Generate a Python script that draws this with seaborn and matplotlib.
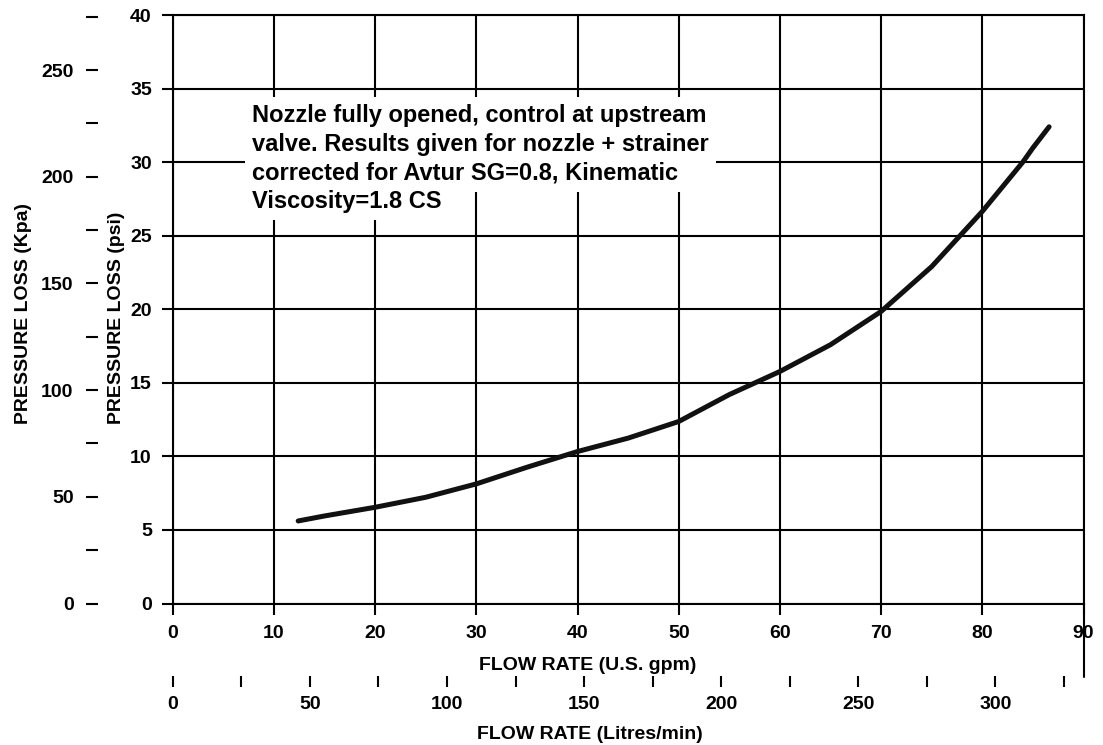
import matplotlib
matplotlib.use("Agg")
import matplotlib.pyplot as plt
import seaborn as sns
import pandas as pd

# ---------------- data ----------------
flow_gpm = [12.4, 15, 20, 25, 30, 35, 40, 45, 50, 55, 60, 65, 70, 75, 80, 84, 85, 86.6]
loss_psi = [5.61, 5.95, 6.54, 7.22, 8.13, 9.26, 10.33, 11.24, 12.37, 14.2, 15.77,
            17.59, 19.85, 22.9, 26.65, 30.0, 30.97, 32.4]

gpm_ticks = list(range(0, 91, 10))
psi_ticks = list(range(0, 41, 5))
kpa_ticks = list(range(0, 276, 25))
kpa_labels = [str(v) if v % 50 == 0 else "" for v in kpa_ticks]
lpm_ticks = list(range(0, 326, 25))
lpm_labels = [str(v) if v % 50 == 0 else "" for v in lpm_ticks]

note_lines = [
    "Nozzle fully opened, control at upstream",
    "valve. Results given for nozzle + strainer",
    "corrected for Avtur SG=0.8, Kinematic",
    "Viscosity=1.8 CS",
]

PSI_TO_KPA = 6.894757
LPM_MAX = 332.1  # litres/min scale as printed on the chart

# ---------------- style ----------------
sns.set_style("white")
plt.rcParams["font.family"] = ["Liberation Sans", "DejaVu Sans"]
plt.rcParams["font.weight"] = "bold"
plt.rcParams["axes.labelweight"] = "bold"
plt.rcParams["text.color"] = "black"
plt.rcParams["axes.labelcolor"] = "black"
plt.rcParams["xtick.color"] = "black"
plt.rcParams["ytick.color"] = "black"

W, H = 1103, 745
fig = plt.figure(figsize=(W / 100, H / 100), dpi=100)
L, R, T, B = 172.7, 1083.5, 15.0, 603.5
rect = [L / W, 1 - B / H, (R - L) / W, (B - T) / H]
PX2PT = 72 / 100
TICK_FS = 14

def fx(px):
    return (px - L) / (R - L)

def fy(py):
    return (B - py) / (B - T)

# ---------------- main axes (gpm / psi) ----------------
ax = fig.add_axes(rect)
df = pd.DataFrame({"gpm": flow_gpm, "psi": loss_psi})
sns.lineplot(data=df, x="gpm", y="psi", ax=ax, color="#111111",
             linewidth=3.6, zorder=3)
ax.set_xlim(gpm_ticks[0], gpm_ticks[-1])
ax.set_ylim(psi_ticks[0], psi_ticks[-1])
ax.set_xticks(gpm_ticks)
ax.set_yticks(psi_ticks)
ax.set_axisbelow(True)
ax.grid(True, color="black", linewidth=1.5)
for s in ax.spines.values():
    s.set_visible(True)
    s.set_color("black")
    s.set_linewidth(1.5)
ax.tick_params(axis="both", bottom=True, left=True, direction="out",
               length=8, width=1.5, color="black", labelsize=TICK_FS,
               labelcolor="black")
ax.tick_params(axis="x", pad=7.5)
ax.tick_params(axis="y", pad=7)

ax.set_xlabel("FLOW RATE (U.S. gpm)", fontsize=14, fontweight="bold", color="black")
ax.xaxis.set_label_coords(fx(587.5), fy(665))
ax.xaxis.label.set_va("center")
ax.set_ylabel("PRESSURE LOSS (psi)", fontsize=14, fontweight="bold", color="black")
ax.yaxis.set_label_coords(fx(116.6), fy(317.7))
ax.yaxis.label.set_va("center")

# extension of the right-hand frame line down past the litres scale
ax.axvline(gpm_ticks[-1], ymin=fy(677), ymax=0, color="black",
           linewidth=1.5, clip_on=False, zorder=2)

# note text with white masks (baseline anchor = last line of the block)
ax.text(fx(252), fy(179.5), "\n".join(note_lines[:3]), transform=ax.transAxes,
        fontsize=17, fontweight="bold", ha="left", va="baseline",
        linespacing=1.33, color="black", zorder=4,
        bbox=dict(boxstyle="square,pad=0.3", fc="white", ec="none"))
ax.text(fx(252), fy(208), note_lines[3], transform=ax.transAxes,
        fontsize=17, fontweight="bold", ha="left", va="baseline",
        color="black", zorder=4.5,
        bbox=dict(boxstyle="square,pad=0.3", fc="white", ec="none"))

# ---------------- kPa scale ----------------
axk = fig.add_axes(rect)
axk.patch.set_visible(False)
axk.set_ylim(0, psi_ticks[-1] * PSI_TO_KPA)
axk.set_xticks([])
for s in axk.spines.values():
    s.set_visible(False)
axk.spines["left"].set_position(("outward", (L - 98) * PX2PT))
axk.set_yticks(kpa_ticks, labels=kpa_labels)
axk.tick_params(axis="y", left=True, direction="out", length=8.6, width=1.5,
                color="black", pad=9.0, labelsize=TICK_FS, labelcolor="black")
axk.set_ylabel("PRESSURE LOSS (Kpa)", fontsize=14, fontweight="bold", color="black")
axk.yaxis.set_label_coords(fx(23.2), fy(313.5))
axk.yaxis.label.set_va("center")

# ---------------- litres/min scale ----------------
axl = fig.add_axes(rect)
axl.patch.set_visible(False)
axl.set_xlim(0, LPM_MAX)
axl.set_yticks([])
for s in axl.spines.values():
    s.set_visible(False)
axl.spines["bottom"].set_position(("outward", (676 - B) * PX2PT))
axl.set_xticks(lpm_ticks, labels=lpm_labels)
axl.tick_params(axis="x", bottom=True, direction="out", length=8, width=1.5,
                color="black", pad=6.5, labelsize=TICK_FS, labelcolor="black")
axl.set_xlabel("FLOW RATE (Litres/min)", fontsize=14, fontweight="bold", color="black")
axl.xaxis.set_label_coords(fx(590), fy(734.5))
axl.xaxis.label.set_va("center")

fig.savefig("out.png", dpi=100)
